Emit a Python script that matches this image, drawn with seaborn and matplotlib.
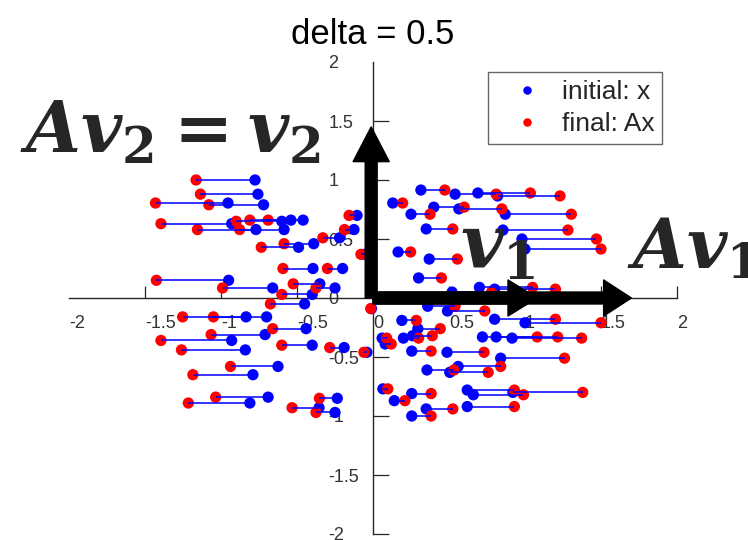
import numpy as np
import pandas as pd
import matplotlib
matplotlib.use("Agg")
import matplotlib.pyplot as plt
import seaborn as sns
from matplotlib.patches import FancyArrowPatch, ArrowStyle
from matplotlib.collections import LineCollection

# Stretch factor of the linear map A = diag(1 + delta, 1)
delta = 0.5

# Initial points x (first and second coordinates)
x_init = [
    -0.776, -0.757, -0.954, -0.72, -0.46, -0.54, -0.60, -0.93, -0.77, -0.585,
    -0.39, -0.49, -0.105, -0.125, -0.22, -0.053, -0.395, -0.20, -0.95, -0.66,
    -0.35, -0.25, -0.40, -0.45, -0.01,
    -0.70, -0.835, -0.44, -0.71, -0.93, -0.40, -0.84, -0.19, -0.04, -0.625,
    -0.79, -0.69, -0.81, -0.235, -0.355, -0.25,
    0.315, 0.54, 0.69, 0.82, 0.13, 0.40, 0.565, 0.25, 0.87, 0.35,
    0.855, 0.98, 1.00, 0.165, 0.37, 0.30, 0.70, 0.80, 0.36, 0.49, 0.52,
    0.19, 0.80, 1.00, 0.295, 0.06, 0.20, 0.26, 0.72, 0.81, 0.915,
    0.08, 0.255, 0.487, 0.84, 0.56, 0.355, 0.505, 0.065, 0.255, 0.62,
    0.66, 0.92, 0.14, 0.62, 0.35, 0.255,
]
y_init = [
    1.00, 0.88, 0.805, 0.79, 0.66, 0.66, 0.65, 0.63, 0.58, 0.58,
    0.46, 0.43, 0.70, 0.58, 0.51, 0.37, 0.25, 0.25, 0.15, 0.085,
    0.12, 0.085, 0.03, -0.05, -0.09,
    -0.16, -0.16, -0.26, -0.31, -0.36, -0.40, -0.44, -0.42, -0.46, -0.58,
    -0.65, -0.84, -0.89, -0.85, -0.93, -0.97,
    0.915, 0.88, 0.89, 0.865, 0.805, 0.77, 0.755, 0.71, 0.71, 0.585,
    0.576, 0.50, 0.415, 0.39, 0.33, 0.17, 0.09, 0.075, -0.07, -0.11, 0.05,
    -0.19, -0.18, -0.21, -0.26, -0.34, -0.34, -0.32, -0.33, -0.33, -0.34,
    -0.39, -0.45, -0.46, -0.51, -0.58, -0.61, -0.63, -0.77, -0.81, -0.78,
    -0.82, -0.80, -0.87, -0.92, -0.94, -1.00,
]

series_labels = ["initial: x", "final: Ax"]
series_colors = ["#0000ff", "#ff0000"]
axis_ticks = [-2, -1.5, -1, -0.5, 0, 0.5, 1, 1.5, 2]
axis_tick_labels = ["-2", "-1.5", "-1", "-0.5", "0", "0.5", "1", "1.5", "2"]

# Eigenvector arrows: v2 (unchanged by A), v1 and A v1
v2_tip = 1.45
v1_tip = 1.08
Av1_tip = 1.70

A = np.array([[1.0 + delta, 0.0], [0.0, 1.0]])
X = np.vstack([x_init, y_init])
AX = A @ X
n = X.shape[1]

sns.set_theme(style="white")
plt.rcParams["font.family"] = ["Liberation Sans", "DejaVu Sans"]
plt.rcParams["axes.unicode_minus"] = False
plt.rcParams["mathtext.fontset"] = "custom"
plt.rcParams["mathtext.it"] = "DejaVu Serif:italic:bold"
plt.rcParams["mathtext.rm"] = "DejaVu Serif:bold"
plt.rcParams["mathtext.bf"] = "DejaVu Serif:bold"

W, H = 748, 540
fig = plt.figure(figsize=(W / 100, H / 100), dpi=100)
ax = fig.add_axes([69 / W, 6 / H, 608 / W, 472 / H])

df = pd.DataFrame({
    "x1": np.concatenate([X[0], AX[0]]),
    "x2": np.concatenate([X[1], AX[1]]),
    "series": [series_labels[0]] * n + [series_labels[1]] * n,
})
sns.scatterplot(data=df, x="x1", y="x2", hue="series", hue_order=series_labels,
                palette=series_colors, s=66, linewidth=0, ax=ax, zorder=3)

# segment joining each x to its image Ax
segments = np.stack([X.T, AX.T], axis=1)
ax.add_collection(LineCollection(segments, colors="#0000ff", linewidths=1.1, zorder=4))

ax.set_xlim(-2, 2)
ax.set_ylim(-2, 2)
ax.set_xlabel("")
ax.set_ylabel("")

# axes crossing at the origin
for side in ("top", "right"):
    ax.spines[side].set_visible(False)
for side in ("left", "bottom"):
    ax.spines[side].set_position(("data", 0))
    ax.spines[side].set_color("#262626")
    ax.spines[side].set_linewidth(1.0)

ax.set_xticks(axis_ticks, axis_tick_labels)
ax.set_yticks(axis_ticks, axis_tick_labels)
ax.tick_params(axis="x", direction="in", length=8.6, width=0.9, pad=12,
               labelsize=13, colors="#262626", bottom=True)
ax.tick_params(axis="y", direction="in", length=11.5, width=0.9, pad=32,
               labelsize=13, colors="#262626", left=True)
plt.setp(ax.get_xticklabels(), ha="left", color="#333333")
plt.setp(ax.get_yticklabels(), ha="left", color="#333333")
ax.xaxis.get_major_ticks()[0].tick1line.set_visible(False)
ax.yaxis.get_major_ticks()[-1].tick1line.set_visible(False)

ax.set_title("delta = 0.5", fontsize=25, pad=13, color="black")

sns.move_legend(ax, "upper left", bbox_to_anchor=(488 / W, 1 - 72 / H),
                bbox_transform=fig.transFigure, title=None, frameon=True,
                fancybox=False, fontsize=19, markerscale=0.75, borderpad=0.3,
                handlelength=2.35, handletextpad=0.15, labelspacing=0.3,
                borderaxespad=0)
leg = ax.get_legend()
leg.get_frame().set_edgecolor("#404040")
leg.get_frame().set_linewidth(1.0)

# eigenvector arrows
def vec_arrow(tip, head_len, vertical):
    end = (-0.012, tip) if vertical else (tip, 0.0)
    start = (-0.012, 0.0) if vertical else (0.0, 0.0)
    style = ArrowStyle.Simple(head_length=head_len, head_width=26, tail_width=8.6)
    ax.add_patch(FancyArrowPatch(start, end, arrowstyle=style, mutation_scale=1,
                                 shrinkA=0, shrinkB=0, color="black", zorder=6,
                                 clip_on=False))

vec_arrow(v2_tip, 25, True)
vec_arrow(Av1_tip, 20, False)
vec_arrow(v1_tip, 21, False)

ax.text(-2.322, 1.229, r"$Av_2 = v_2$", fontsize=51, ha="left", va="baseline",
        zorder=7, clip_on=False)
ax.text(0.572, 0.254, r"$v_1$", fontsize=53, ha="left", va="baseline",
        zorder=7, clip_on=False)
ax.text(1.671, 0.254, r"$Av_1$", fontsize=50, ha="left", va="baseline",
        zorder=7, clip_on=False)

fig.savefig("out.png", dpi=100)
